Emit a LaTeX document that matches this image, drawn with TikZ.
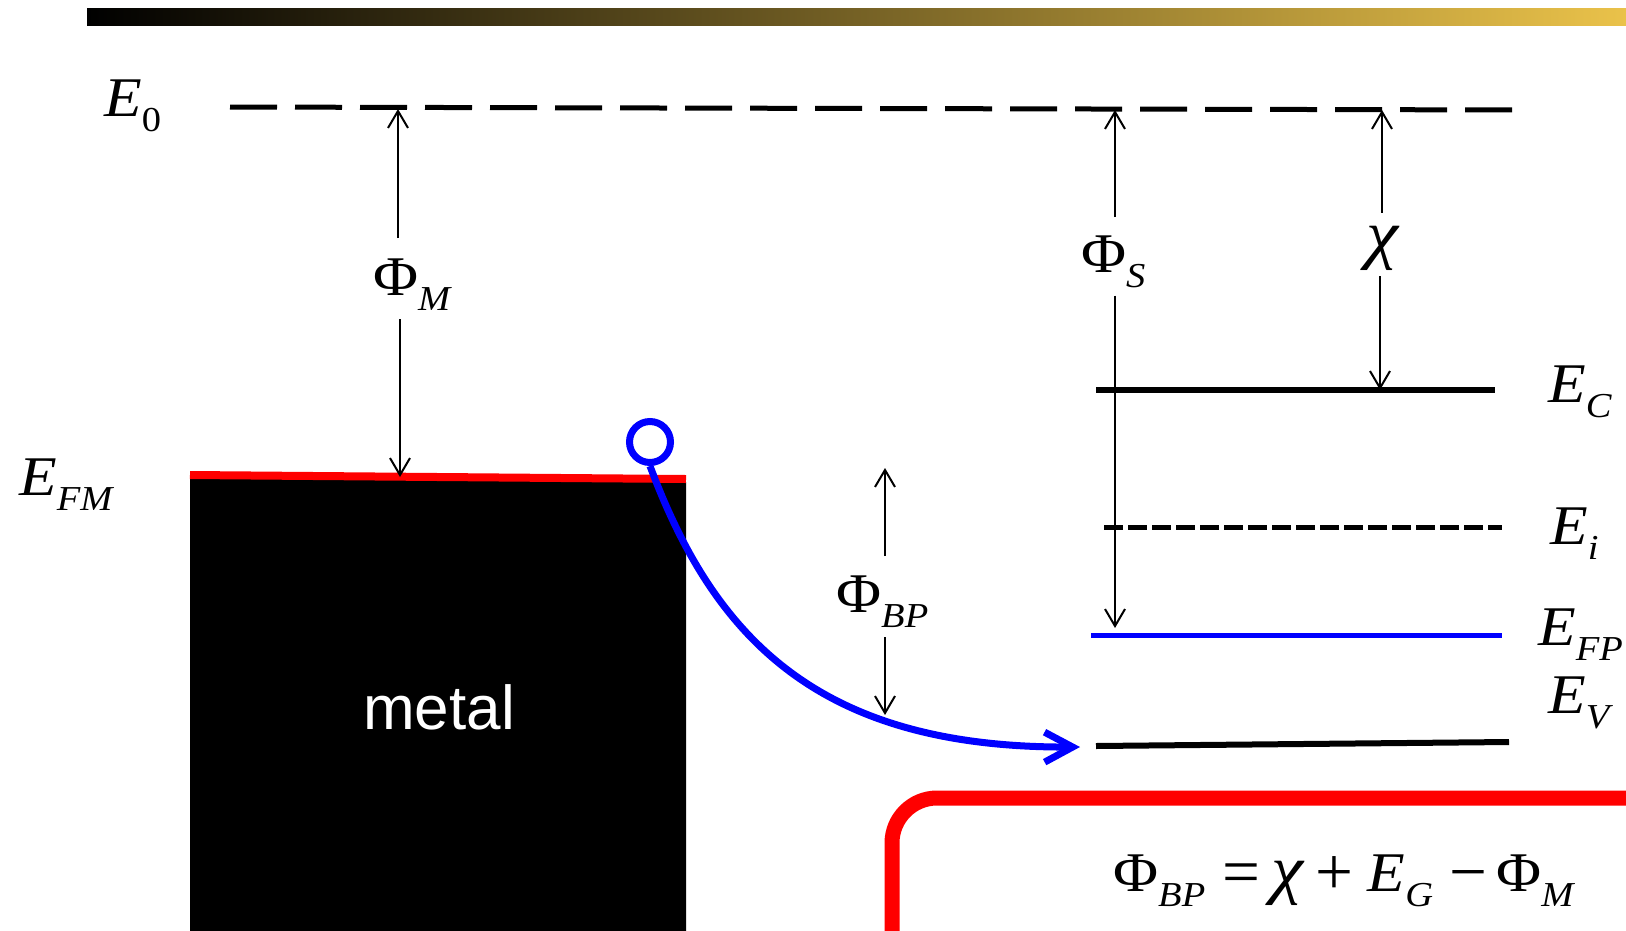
\documentclass[tikz,border=0pt]{standalone}
\usepackage{fontspec}
\setmainfont{Liberation Serif}
\newfontfamily\metalfont{Liberation Sans}
\usepackage{graphicx}
\usepackage{tikz}
\usetikzlibrary{arrows.meta}
\definecolor{myred}{RGB}{255,0,0}
\definecolor{myblue}{RGB}{0,0,255}
\definecolor{mygold}{RGB}{234,194,74}
\definecolor{mybronze}{RGB}{150,122,52}
\newcommand{\bigsz}{\fontsize{56}{60}\selectfont}
\newcommand{\subsz}{\fontsize{35}{38}\selectfont}
\newcommand{\wide}[1]{\scalebox{1.1}[1]{#1}}
\newcommand{\lvl}[2]{\wide{#1\raisebox{-15pt}{\subsz #2}}}
\newcommand{\chisym}{\wide{\fontsize{66}{70}\selectfont\textit{χ}}}
\newcommand{\opsym}[1]{\raisebox{-3pt}{\scalebox{1.2}{#1}}}
\tikzset{
  bandline/.style={line width=6pt},
  fermi/.style={line width=5pt, color=myblue},
  vacuum/.style={line width=5pt, dash pattern=on 47pt off 18pt},
  intrinsic/.style={line width=5pt, dash pattern=on 19pt off 5pt},
  dimarrow/.style={-{Straight Barb[length=17pt,width=20pt]}, line width=2pt},
  lbl/.style={font=\bigsz, inner sep=0pt, anchor=base west},
  holepath/.style={line width=7pt, color=myblue, -{Straight Barb[length=28pt,width=30pt]}}
}

\begin{document}
\begin{tikzpicture}[x=1pt,y=-1pt]
  \useasboundingbox (0,0) rectangle (1626,930);
  \clip (0,0) rectangle (1626,930);
  \shade[left color=black, middle color=mybronze, right color=mygold] (87,8) rectangle (1626,25);

  \fill (190,478) -- (686,482) -- (686,940) -- (190,940) -- cycle;
  \draw[myred, line width=8pt] (190,475) -- (686,479);
  \node[font=\metalfont\fontsize{62}{62}\selectfont, text=white, anchor=base] (metal) at (439,729) {metal};

  \draw[vacuum] (230,107) -- (1525,110);
  \draw[bandline] (1096,390) -- (1495,390);
  \draw[intrinsic] (1104,527) -- (1502,527);
  \draw[fermi] (1091,635) -- (1502,635);
  \draw[bandline] (1096,746) -- (1509,742);

  \node[lbl] (e0) at (104,116) {\lvl{\textit{E}}{0}};
  \node[lbl] (efm) at (19,495) {\lvl{\textit{E}}{\textit{FM}}};
  \node[lbl] (ec) at (1548,402) {\lvl{\textit{E}}{\textit{C}}};
  \node[lbl] (ei) at (1550,544) {\lvl{\textit{E}}{\textit{i}}};
  \node[lbl] (efp) at (1538,645) {\lvl{\textit{E}}{\textit{FP}}};
  \node[lbl] (ev) at (1548,713) {\lvl{\textit{E}}{\textit{V}}};

  \node[lbl] (phim) at (373,295) {\lvl{Φ}{\textit{M}}};
  \node[lbl] (phis) at (1081,272) {\lvl{Φ}{\textit{S}}};
  \node[lbl] (chi) at (1366,256) {\chisym};
  \node[lbl] (phibp) at (836,612) {\lvl{Φ}{\textit{BP}}};

  \coordinate (mtop) at (398,109);
  \coordinate (mbot) at (400,477);
  \coordinate (stop) at (1115,110);
  \coordinate (sbot) at (1115,628);
  \coordinate (chitop) at (1382,110);
  \coordinate (chibot) at (1380,390);
  \coordinate (bptop) at (885,468);
  \coordinate (bpbot) at (885,715);
  \draw[dimarrow, shorten <=20pt] (phim.north -| mtop) -- (mtop);
  \draw[dimarrow, shorten <=9pt] (phim.south -| mbot) -- (mbot);
  \draw[dimarrow, shorten <=18pt] (phis.north -| stop) -- (stop);
  \draw[dimarrow, shorten <=8pt] (phis.south -| sbot) -- (sbot);
  \draw[dimarrow, shorten <=13pt] (chi.north -| chitop) -- (chitop);
  \draw[dimarrow, shorten <=6pt] (chi.south -| chibot) -- (chibot);
  \draw[dimarrow, shorten <=19pt] (phibp.north -| bptop) -- (bptop);
  \draw[dimarrow, shorten <=10pt] (phibp.south -| bpbot) -- (bpbot);

  \node[circle, draw=myblue, line width=7pt, minimum size=41pt, inner sep=0pt] (hole) at (650,442) {};
  \coordinate (evleft) at (1080,747);
  \draw[holepath] (hole.south) .. controls (715,640) and (820,748) .. (evleft);

  \draw[myred, line width=15pt, rounded corners=45pt] (1700,798) -- (892,798) -- (892,1000);
  \node[lbl] (eq) at (1113,891) {\lvl{Φ}{\textit{BP}}\hspace{0.3em}\opsym{=}\hspace{0.2em}\chisym\hspace{0.2em}\opsym{+}\hspace{0.25em}\lvl{\textit{E}}{\textit{G}}\hspace{0.3em}\opsym{−}\hspace{0.15em}\lvl{Φ}{\textit{M}}};
\end{tikzpicture}
\end{document}
